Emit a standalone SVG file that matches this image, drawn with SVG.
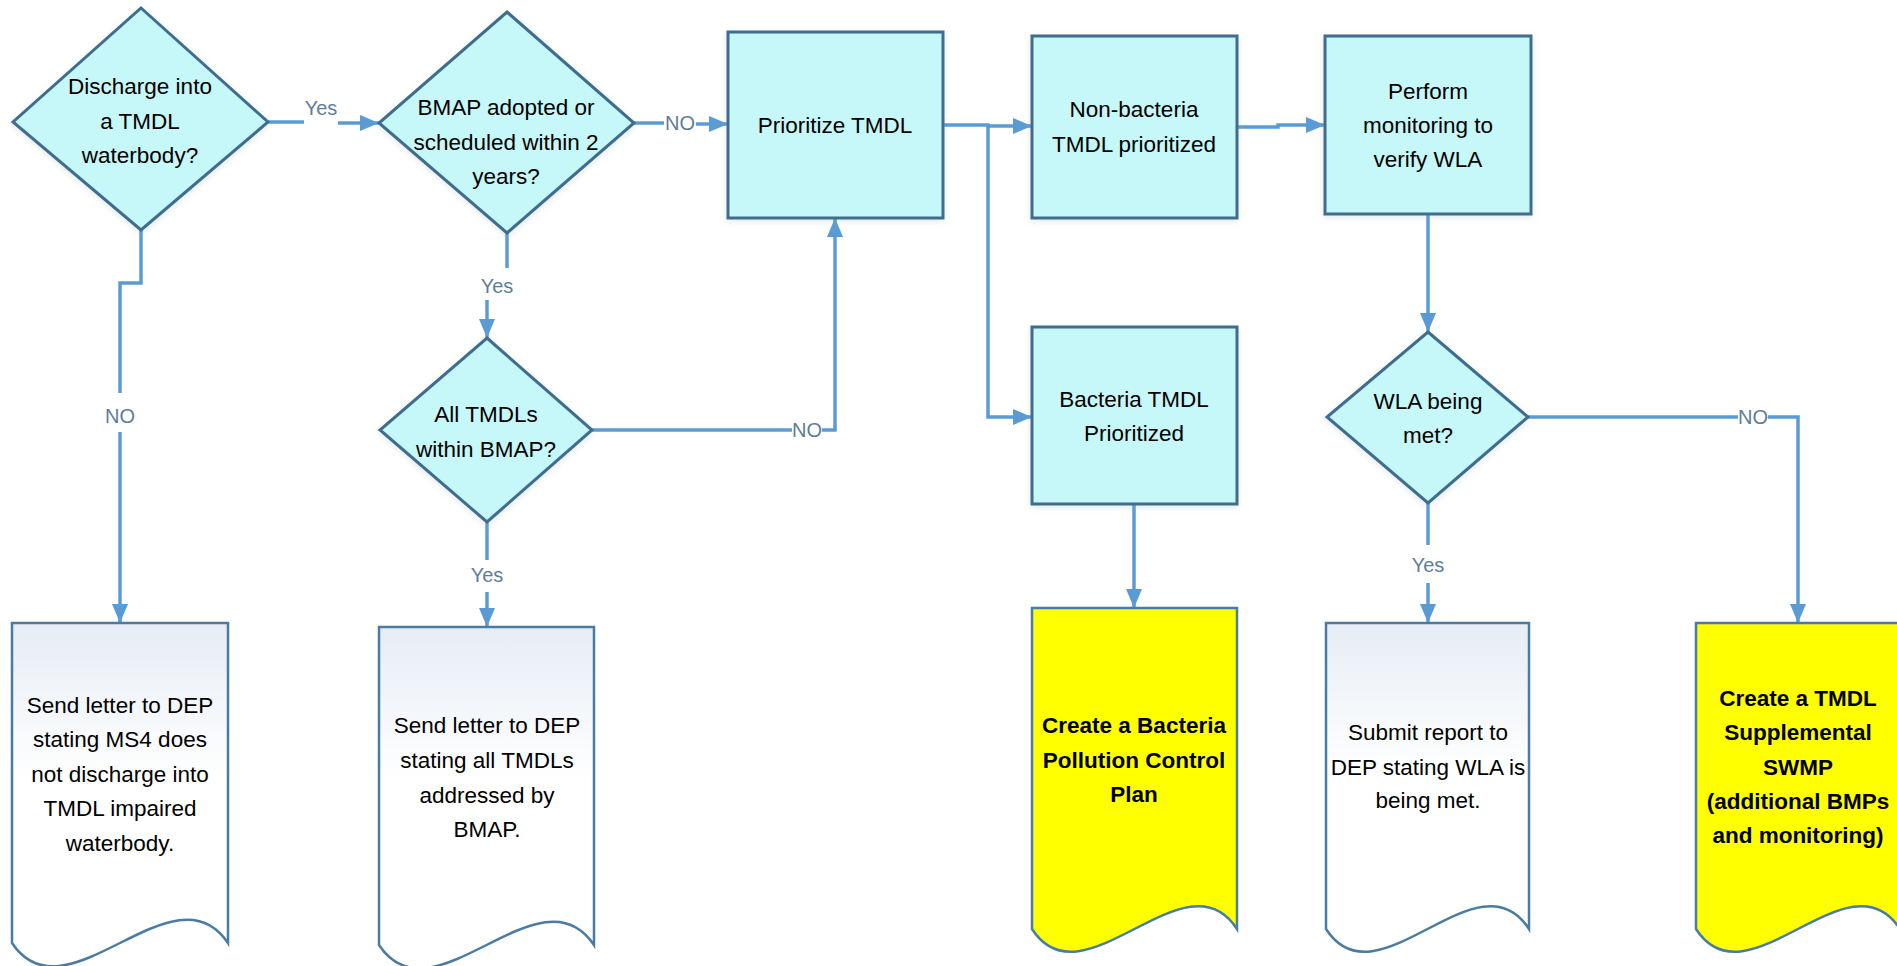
<svg xmlns="http://www.w3.org/2000/svg" width="1897" height="966" viewBox="0 0 1897 966">
<defs>
<style>
.shape{fill:#c6f7f9;stroke:#3f6d8e;stroke-width:3;filter:url(#sh)}
.doc{fill:url(#docg);stroke:#4a7ca3;stroke-width:2.5}
.ydoc{fill:#ffff00;stroke:#4a7ca3;stroke-width:2.5}
.t{font-family:"Liberation Sans",Arial,sans-serif;font-size:22.5px;fill:#000;text-anchor:middle}
.b{font-weight:bold}
.lbl{font-family:"Liberation Sans",Arial,sans-serif;font-size:20px;fill:#5f7d96;text-anchor:middle}
.c{fill:none;stroke:#5b9bd5;stroke-width:3.5}
.a{marker-end:url(#arr)}
</style>
<linearGradient id="docg" x1="0" y1="0" x2="0" y2="1">
<stop offset="0" stop-color="#e6edf5"/>
<stop offset="0.45" stop-color="#ffffff"/>
<stop offset="1" stop-color="#ffffff"/>
</linearGradient>
<filter id="sh" x="-10%" y="-10%" width="120%" height="120%">
<feDropShadow dx="0" dy="2" stdDeviation="3" flood-color="#8aa" flood-opacity="0.25"/>
</filter>
<marker id="arr" markerUnits="userSpaceOnUse" markerWidth="21" markerHeight="17" refX="19" refY="8" orient="auto">
<path d="M0,0 L19,8 L0,16 z" fill="#5b9bd5"/>
</marker>
</defs>
<rect width="1897" height="966" fill="#ffffff"/>

<g id="connectors">
<path class="c" d="M268,122 H304"/>
<path class="c a" d="M338,123 H379"/>
<path class="c" d="M634,123 H664"/>
<path class="c a" d="M696,124 H728"/>
<path class="c" d="M141,230 V283 H120 V393"/>
<path class="c a" d="M120,432 V623"/>
<path class="c" d="M507,233 V268"/>
<path class="c a" d="M487,300 V338"/>
<path class="c" d="M592,430 H792"/>
<path class="c a" d="M822,430 H835 V218"/>
<path class="c" d="M487,522 V560"/>
<path class="c a" d="M487,592 V627"/>
<path class="c a" d="M943,125 H988 V126 H1032"/>
<path class="c a" d="M988,126 V417 H1032"/>
<path class="c a" d="M1134,504 V608"/>
<path class="c a" d="M1237,127 H1278 V125 H1325"/>
<path class="c a" d="M1428,214 V332"/>
<path class="c" d="M1528,417 H1738"/>
<path class="c a" d="M1768,417 H1798 V623"/>
<path class="c" d="M1428,503 V545"/>
<path class="c a" d="M1428,583 V623"/>
<text class="lbl" x="321" y="115">Yes</text>
<text class="lbl" x="680" y="130">NO</text>
<text class="lbl" x="120" y="423">NO</text>
<text class="lbl" x="497" y="293">Yes</text>
<text class="lbl" x="807" y="437">NO</text>
<text class="lbl" x="487" y="582">Yes</text>
<text class="lbl" x="1753" y="424">NO</text>
<text class="lbl" x="1428" y="572">Yes</text>
</g>

<g id="d-discharge">
<polygon class="shape" points="141,8 268,122 141,230 13,122"/>
<text class="t" x="140" y="94">Discharge into</text>
<text class="t" x="140" y="129">a TMDL</text>
<text class="t" x="140" y="163">waterbody?</text>
</g>

<g id="d-bmap">
<polygon class="shape" points="507,12 634,123 507,233 379,123"/>
<text class="t" x="506" y="115">BMAP adopted or</text>
<text class="t" x="506" y="150">scheduled within 2</text>
<text class="t" x="506" y="184">years?</text>
</g>

<g id="d-all">
<polygon class="shape" points="487,338 592,430 487,522 380,430"/>
<text class="t" x="486" y="422">All TMDLs</text>
<text class="t" x="486" y="457">within BMAP?</text>
</g>

<g id="p-prioritize">
<rect class="shape" x="728" y="32" width="215" height="186"/>
<text class="t" x="835" y="133">Prioritize TMDL</text>
</g>

<g id="p-nonbacteria">
<rect class="shape" x="1032" y="36" width="205" height="182"/>
<text class="t" x="1134" y="117">Non-bacteria</text>
<text class="t" x="1134" y="152">TMDL prioritized</text>
</g>

<g id="p-perform">
<rect class="shape" x="1325" y="36" width="206" height="178"/>
<text class="t" x="1428" y="99">Perform</text>
<text class="t" x="1428" y="133">monitoring to</text>
<text class="t" x="1428" y="167">verify WLA</text>
</g>

<g id="p-bacteria">
<rect class="shape" x="1032" y="327" width="205" height="177"/>
<text class="t" x="1134" y="407">Bacteria TMDL</text>
<text class="t" x="1134" y="441">Prioritized</text>
</g>

<g id="d-wla">
<polygon class="shape" points="1428,332 1528,417 1428,503 1327,417"/>
<text class="t" x="1428" y="409">WLA being</text>
<text class="t" x="1428" y="443">met?</text>
</g>

<g id="doc-ms4">
<path class="doc" d="M12,623 H228 V943 C174,862 66,1024 12,943 Z"/>
<text class="t" x="120" y="713">Send letter to DEP</text>
<text class="t" x="120" y="747">stating MS4 does</text>
<text class="t" x="120" y="782">not discharge into</text>
<text class="t" x="120" y="816">TMDL impaired</text>
<text class="t" x="120" y="851">waterbody.</text>
</g>

<g id="doc-bmap">
<path class="doc" d="M379,627 H594 V945 C540,864 433,1026 379,945 Z"/>
<text class="t" x="487" y="733">Send letter to DEP</text>
<text class="t" x="487" y="768">stating all TMDLs</text>
<text class="t" x="487" y="803">addressed by</text>
<text class="t" x="487" y="837">BMAP.</text>
</g>

<g id="doc-bacteria">
<path class="ydoc" d="M1032,608 H1237 V929 C1186,850 1083,1008 1032,929 Z"/>
<text class="t b" x="1134" y="733">Create a Bacteria</text>
<text class="t b" x="1134" y="768">Pollution Control</text>
<text class="t b" x="1134" y="802">Plan</text>
</g>

<g id="doc-submit">
<path class="doc" d="M1326,623 H1529 V929 C1478,850 1377,1008 1326,929 Z"/>
<text class="t" x="1428" y="740">Submit report to</text>
<text class="t" x="1428" y="775">DEP stating WLA is</text>
<text class="t" x="1428" y="808">being met.</text>
</g>

<g id="doc-swmp">
<path class="ydoc" d="M1696,623 H1900 V929 C1849,850 1747,1008 1696,929 Z"/>
<text class="t b" x="1798" y="706">Create a TMDL</text>
<text class="t b" x="1798" y="740">Supplemental</text>
<text class="t b" x="1798" y="775">SWMP</text>
<text class="t b" x="1798" y="809">(additional BMPs</text>
<text class="t b" x="1798" y="843">and monitoring)</text>
</g>
</svg>
